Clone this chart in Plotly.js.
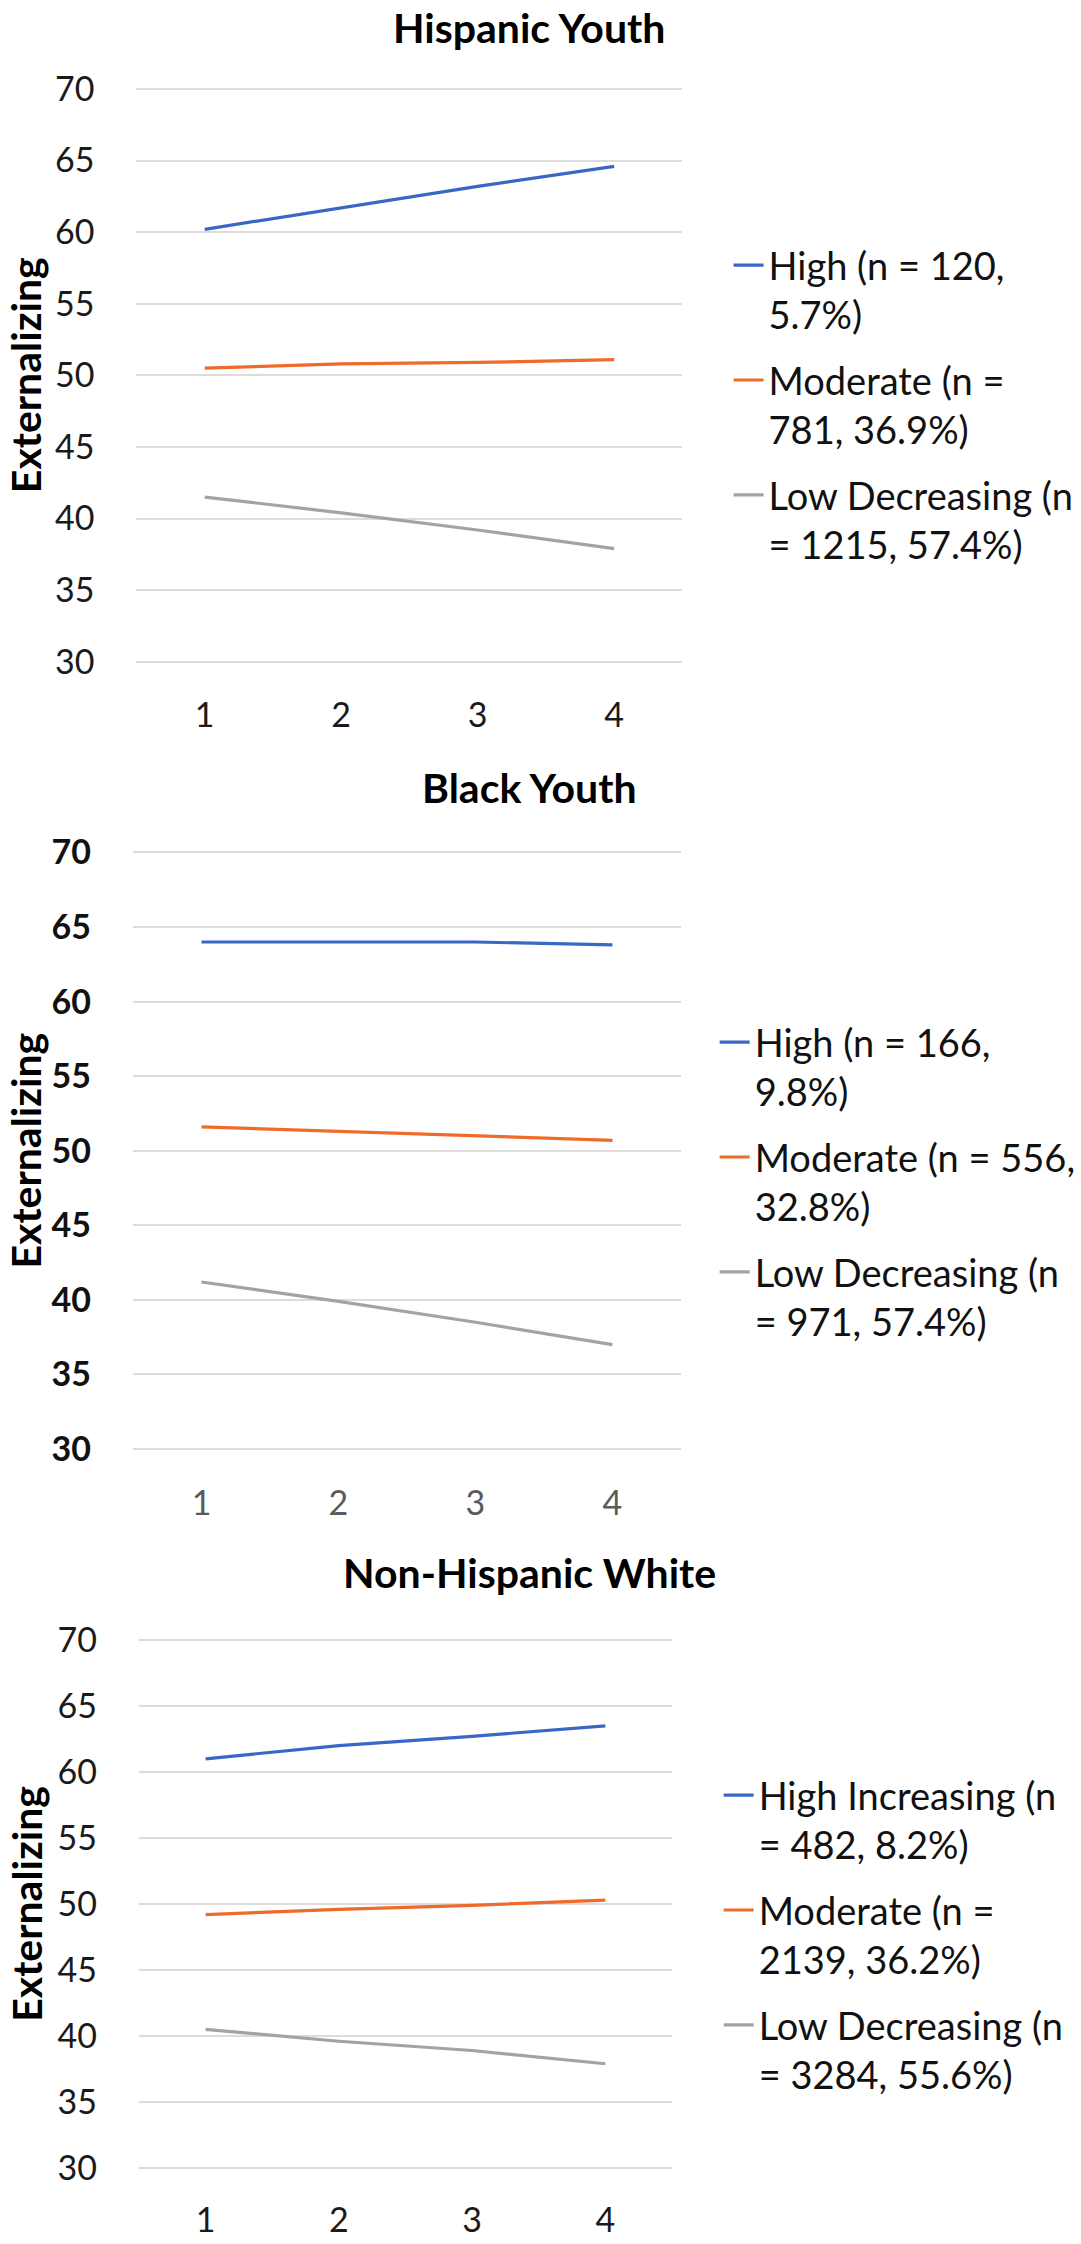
<!DOCTYPE html>
<html>
<head>
<meta charset="utf-8">
<script src="https://cdn.plot.ly/plotly-3.0.1.min.js"></script>
<style>
  html, body { margin: 0; padding: 0; background: #ffffff; }
  #chart { width: 1081px; height: 2244px; }
</style>
</head>
<body>
<div id="chart"></div>
<script>
// ---- Data ----
const timePoints = [1, 2, 3, 4];
const tickLabelsX = ["1", "2", "3", "4"];
const yTickValues = [30, 35, 40, 45, 50, 55, 60, 65, 70];

const panelTitles = ["Hispanic Youth", "Black Youth", "Non-Hispanic White"];
const yAxisLabel = "Externalizing";

const hispanicHigh = [60.2, 61.7, 63.2, 64.6];
const hispanicModerate = [50.5, 50.8, 50.9, 51.1];
const hispanicLow = [41.5, 40.4, 39.2, 37.9];

const blackHigh = [64.0, 64.0, 64.0, 63.8];
const blackModerate = [51.6, 51.3, 51.0, 50.7];
const blackLow = [41.2, 39.9, 38.5, 37.0];

const whiteHigh = [61.0, 62.0, 62.7, 63.5];
const whiteModerate = [49.2, 49.6, 49.9, 50.3];
const whiteLow = [40.5, 39.6, 38.9, 37.9];

const hispanicNames = ["High (n = 120,<br>5.7%)", "Moderate (n =<br>781, 36.9%)", "Low Decreasing (n<br>= 1215, 57.4%)"];
const blackNames = ["High (n = 166,<br>9.8%)", "Moderate (n = 556,<br>32.8%)", "Low Decreasing (n<br>= 971, 57.4%)"];
const whiteNames = ["High Increasing (n<br>= 482, 8.2%)", "Moderate (n =<br>2139, 36.2%)", "Low Decreasing (n<br>= 3284, 55.6%)"];

// ---- Styling / layout ----
const W = 1081, H = 2244;
const seriesColors = ["#3A66C6", "#EE6B2A", "#A3A3A3"];
const FONT = "Lato, 'Open Sans', 'DejaVu Sans', sans-serif";

// pixel geometry of each panel: left/right of plot, y pixel of 70 and 30 gridlines
const panels = [
  { left: 137.5, right: 687.5, y70: 89,    y30: 661.7, legendX: 734, legendTop: 234,
    yTickWeight: "normal", yTickColor: "#1a1a1a", xTickColor: "#1a1a1a" },
  { left: 134,   right: 686,   y70: 852.5, y30: 1449,  legendX: 720, legendTop: 1011,
    yTickWeight: "bold",   yTickColor: "#111111", xTickColor: "#5a5a5a" },
  { left: 140,   right: 677,   y70: 1640,  y30: 2168,  legendX: 724, legendTop: 1764,
    yTickWeight: "normal", yTickColor: "#1a1a1a", xTickColor: "#1a1a1a" }
];
const titleY = [27, 787, 1572];

const seriesSets = [
  [hispanicHigh, hispanicModerate, hispanicLow],
  [blackHigh, blackModerate, blackLow],
  [whiteHigh, whiteModerate, whiteLow]
];
const nameSets = [hispanicNames, blackNames, whiteNames];

const px = x => x / W;
const py = y => 1 - y / H;

const data = [];
const layout = {
  width: W, height: H,
  margin: { l: 0, r: 0, t: 0, b: 0 },
  paper_bgcolor: "#ffffff",
  plot_bgcolor: "#ffffff",
  font: { family: FONT, color: "#1a1a1a" },
  showlegend: true,
  annotations: []
};

panels.forEach((p, i) => {
  const n = i === 0 ? "" : String(i + 1);
  const perUnit = (p.y30 - p.y70) / 40;
  const yMin = 29, yMax = 71;
  const topPx = p.y70 - (yMax - 70) * perUnit;
  const botPx = p.y30 + (30 - yMin) * perUnit;

  layout["xaxis" + n] = {
    domain: [px(p.left), px(p.right)],
    anchor: "y" + n,
    range: [0.5, 4.5],
    tickvals: timePoints,
    ticktext: tickLabelsX,
    showgrid: false, zeroline: false, showline: false,
    ticks: "",
    ticklabelstandoff: 16,
    tickfont: { family: FONT, size: 34, color: p.xTickColor }
  };
  layout["yaxis" + n] = {
    domain: [py(botPx), py(topPx)],
    anchor: "x" + n,
    range: [yMin, yMax],
    tickvals: yTickValues,
    showgrid: true, gridcolor: "#dcdcdc", gridwidth: 2,
    zeroline: false, showline: false,
    ticks: "",
    ticklabelstandoff: 41,
    tickfont: { family: FONT, size: 34, color: p.yTickColor, weight: p.yTickWeight }
  };

  const legendKey = "legend" + n;
  layout[legendKey] = {
    x: px(p.legendX), xanchor: "left",
    y: py(p.legendTop), yanchor: "top",
    bgcolor: "rgba(0,0,0,0)",
    borderwidth: 0,
    valign: "top",
    tracegroupgap: 13,
    font: { family: FONT, size: 38, color: "#111111" }
  };

  seriesSets[i].forEach((vals, k) => {
    data.push({
      type: "scatter", mode: "lines",
      x: timePoints, y: vals,
      xaxis: "x" + n, yaxis: "y" + n,
      name: nameSets[i][k],
      legend: legendKey,
      legendgroup: "p" + i + "s" + k,
      line: { color: seriesColors[k], width: 3.2 },
      hoverinfo: "x+y"
    });
  });

  layout.annotations.push({
    xref: "paper", yref: "paper",
    x: px(533), y: py(titleY[i]),
    xanchor: "center", yanchor: "middle",
    text: "<b>" + panelTitles[i] + "</b>",
    showarrow: false,
    font: { family: FONT, size: 41, color: "#000000" }
  });
  layout.annotations.push({
    xref: "paper", yref: "paper",
    x: px(26), y: py((p.y70 + p.y30) / 2),
    xanchor: "center", yanchor: "middle",
    textangle: -90,
    text: "<b>" + yAxisLabel + "</b>",
    showarrow: false,
    font: { family: FONT, size: 41, color: "#000000" }
  });
});

Plotly.newPlot("chart", data, layout, { staticPlot: true, displayModeBar: false });
</script>
</body>
</html>
